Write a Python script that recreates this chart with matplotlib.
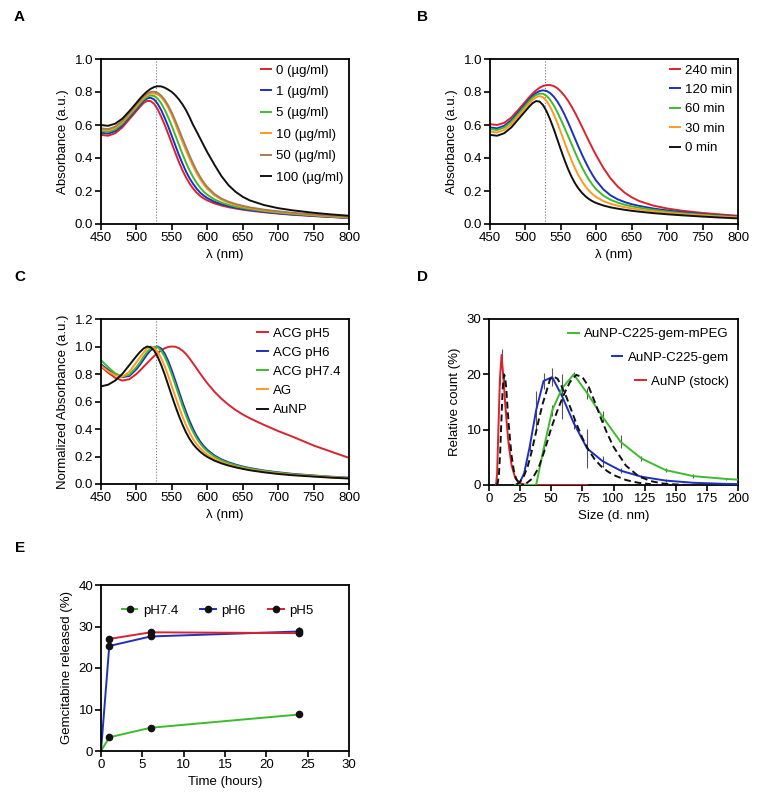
import numpy as np
import matplotlib
matplotlib.use("Agg")
import matplotlib.pyplot as plt
from matplotlib.lines import Line2D

plt.rcParams["font.family"] = ["Liberation Sans", "DejaVu Sans"]
plt.rcParams["font.size"] = 9.5

# ---- spectra (A, B, C) ----
wl = [450, 460, 470, 480, 490, 500, 505, 510, 515, 520, 525, 530, 535, 540, 545, 550, 555, 560,
      565, 570, 575, 580, 585, 590, 595, 600, 610, 620, 630, 640, 650, 660, 680, 700, 720, 750,
      775, 800]

a_labels = ["0 (µg/ml)", "1 (µg/ml)", "5 (µg/ml)", "10 (µg/ml)", "50 (µg/ml)", "100 (µg/ml)"]
a_0 = [0.54, 0.535, 0.55, 0.585, 0.635, 0.685, 0.71, 0.733, 0.746, 0.745, 0.728, 0.695, 0.65,
       0.60, 0.545, 0.487, 0.43, 0.375, 0.325, 0.282, 0.245, 0.215, 0.19, 0.17, 0.155, 0.143,
       0.125, 0.112, 0.102, 0.094, 0.087, 0.081, 0.071, 0.063, 0.056, 0.048, 0.042, 0.036]
a_1 = [0.553, 0.548, 0.563, 0.598, 0.648, 0.698, 0.723, 0.746, 0.761, 0.765, 0.755, 0.728, 0.69,
       0.642, 0.59, 0.533, 0.475, 0.418, 0.366, 0.318, 0.277, 0.243, 0.214, 0.19, 0.172, 0.157,
       0.135, 0.12, 0.108, 0.099, 0.091, 0.085, 0.074, 0.065, 0.058, 0.05, 0.043, 0.037]
a_5 = [0.563, 0.558, 0.573, 0.607, 0.656, 0.706, 0.731, 0.754, 0.771, 0.779, 0.776, 0.76, 0.731,
       0.692, 0.645, 0.593, 0.537, 0.48, 0.424, 0.372, 0.325, 0.284, 0.249, 0.22, 0.196, 0.177,
       0.149, 0.13, 0.116, 0.105, 0.097, 0.09, 0.078, 0.069, 0.061, 0.052, 0.045, 0.038]
a_10 = [0.573, 0.568, 0.583, 0.617, 0.666, 0.716, 0.741, 0.764, 0.781, 0.79, 0.79, 0.785, 0.768,
        0.74, 0.703, 0.658, 0.606, 0.55, 0.497, 0.445, 0.395, 0.349, 0.307, 0.27, 0.239, 0.213,
        0.174, 0.148, 0.129, 0.115, 0.104, 0.096, 0.083, 0.073, 0.065, 0.055, 0.047, 0.04]
a_50 = [0.58, 0.575, 0.59, 0.624, 0.673, 0.724, 0.749, 0.772, 0.79, 0.80, 0.802, 0.795, 0.778,
        0.752, 0.717, 0.674, 0.625, 0.572, 0.518, 0.465, 0.414, 0.366, 0.323, 0.285, 0.252, 0.224,
        0.182, 0.154, 0.135, 0.121, 0.11, 0.101, 0.087, 0.077, 0.068, 0.058, 0.05, 0.043]
a_100 = [0.60, 0.595, 0.608, 0.638, 0.684, 0.734, 0.76, 0.783, 0.803, 0.819, 0.83, 0.835, 0.834,
         0.826, 0.814, 0.80, 0.78, 0.755, 0.725, 0.69, 0.647, 0.60, 0.56, 0.518, 0.476, 0.435,
         0.36, 0.29, 0.235, 0.195, 0.165, 0.143, 0.115, 0.096, 0.083, 0.068, 0.058, 0.05]

b_labels = ["240 min", "120 min", "60 min", "30 min", "0 min"]
b_240 = [0.605, 0.60, 0.613, 0.645, 0.692, 0.742, 0.767, 0.79, 0.81, 0.826, 0.837, 0.842, 0.842,
         0.836, 0.823, 0.803, 0.778, 0.748, 0.713, 0.674, 0.632, 0.588, 0.543, 0.499, 0.456, 0.415,
         0.34, 0.277, 0.228, 0.19, 0.162, 0.14, 0.112, 0.094, 0.081, 0.067, 0.058, 0.05]
b_120 = [0.585, 0.58, 0.595, 0.629, 0.678, 0.728, 0.753, 0.776, 0.794, 0.806, 0.81, 0.806, 0.793,
         0.772, 0.743, 0.707, 0.665, 0.618, 0.568, 0.517, 0.467, 0.419, 0.374, 0.332, 0.295, 0.262,
         0.21, 0.174, 0.15, 0.133, 0.12, 0.11, 0.094, 0.082, 0.072, 0.06, 0.051, 0.043]
b_60 = [0.575, 0.57, 0.585, 0.619, 0.668, 0.718, 0.743, 0.766, 0.782, 0.79, 0.789, 0.776, 0.752,
        0.719, 0.678, 0.633, 0.585, 0.535, 0.485, 0.435, 0.387, 0.342, 0.302, 0.266, 0.236, 0.21,
        0.172, 0.147, 0.13, 0.117, 0.107, 0.099, 0.086, 0.075, 0.066, 0.056, 0.048, 0.041]
b_30 = [0.56, 0.555, 0.57, 0.604, 0.654, 0.704, 0.729, 0.752, 0.768, 0.775, 0.768, 0.745, 0.71,
        0.665, 0.613, 0.556, 0.497, 0.44, 0.386, 0.337, 0.294, 0.257, 0.226, 0.2, 0.18, 0.163,
        0.139, 0.123, 0.111, 0.102, 0.094, 0.088, 0.077, 0.068, 0.06, 0.052, 0.045, 0.039]
b_0 = [0.54, 0.535, 0.55, 0.585, 0.635, 0.685, 0.71, 0.732, 0.745, 0.742, 0.72, 0.682, 0.632,
       0.575, 0.513, 0.45, 0.39, 0.335, 0.287, 0.247, 0.214, 0.188, 0.167, 0.15, 0.137, 0.127,
       0.112, 0.101, 0.093, 0.086, 0.08, 0.075, 0.066, 0.059, 0.053, 0.045, 0.039, 0.034]

c_labels = ["ACG pH5", "ACG pH6", "ACG pH7.4", "AG", "AuNP"]
c_ph5 = [0.855, 0.81, 0.772, 0.752, 0.762, 0.80, 0.825, 0.852, 0.878, 0.905, 0.93, 0.953, 0.972,
         0.987, 0.997, 1.0, 0.998, 0.988, 0.97, 0.945, 0.913, 0.877, 0.84, 0.803, 0.767, 0.733,
         0.672, 0.62, 0.576, 0.538, 0.506, 0.478, 0.43, 0.385, 0.345, 0.28, 0.235, 0.19]
c_ph6 = [0.87, 0.83, 0.795, 0.778, 0.785, 0.835, 0.868, 0.905, 0.942, 0.972, 0.992, 1.0, 0.985,
         0.948, 0.893, 0.825, 0.75, 0.672, 0.596, 0.524, 0.458, 0.40, 0.35, 0.309, 0.276, 0.249,
         0.208, 0.179, 0.158, 0.141, 0.127, 0.116, 0.098, 0.085, 0.074, 0.062, 0.053, 0.046]
c_ph74 = [0.90, 0.85, 0.805, 0.782, 0.795, 0.85, 0.885, 0.925, 0.96, 0.985, 0.998, 0.995, 0.97,
          0.925, 0.865, 0.795, 0.72, 0.643, 0.568, 0.497, 0.433, 0.378, 0.332, 0.294, 0.263, 0.238,
          0.20, 0.172, 0.152, 0.136, 0.123, 0.112, 0.095, 0.082, 0.071, 0.06, 0.051, 0.044]
c_ag = [0.86, 0.82, 0.79, 0.78, 0.815, 0.885, 0.92, 0.955, 0.985, 1.0, 0.99, 0.96, 0.915, 0.855,
        0.785, 0.71, 0.635, 0.56, 0.49, 0.428, 0.373, 0.327, 0.29, 0.26, 0.235, 0.214, 0.182,
        0.159, 0.141, 0.127, 0.115, 0.105, 0.089, 0.077, 0.067, 0.057, 0.049, 0.042]
c_aunp = [0.71, 0.722, 0.752, 0.80, 0.865, 0.93, 0.96, 0.985, 1.0, 0.995, 0.97, 0.925, 0.865,
          0.795, 0.718, 0.64, 0.565, 0.495, 0.432, 0.375, 0.328, 0.29, 0.26, 0.235, 0.214, 0.197,
          0.17, 0.15, 0.134, 0.121, 0.11, 0.10, 0.085, 0.073, 0.064, 0.054, 0.046, 0.04]

# ---- DLS size distribution (D) ----
nan = np.nan
dls_size = [5.615, 6.503, 7.531, 8.721, 10.1, 11.7, 13.54, 15.69, 18.17, 21.04, 24.36, 28.21, 32.67,
            37.84, 43.82, 50.75, 58.77, 68.06, 78.82, 91.28, 105.7, 122.4, 141.8, 164.2, 190.1, 220.2]
d_aunp = [0, 2, 10, 19, 23.5, 19, 13, 7.5, 3.5, 1.3, 0.4, 0.1, 0, 0, 0, 0, 0, 0, 0,
          nan, nan, nan, nan, nan, nan, nan]
d_aunp_err = [0, 0, 0.5, 1, 1, 1, 0.5, 0.3, 0.2, 0.1, 0, 0, 0, 0, 0, 0, 0, 0, 0,
              0, 0, 0, 0, 0, 0, 0]
d_gem = [nan, nan, nan, nan, nan, nan, nan, nan, nan, 0, 0.3, 2.1, 6.9, 13.5, 18.8, 19.5, 16, 11.2,
         6.6, 4.3, 2.6, 1.5, 0.8, 0.4, 0.2, 0.1]
d_gem_err = [0, 0, 0, 0, 0, 0, 0, 0, 0, 0, 0.1, 0.3, 0.8, 3.5, 1.5, 1.6, 4, 1, 3.5, 1, 0.5,
             0.3, 0.2, 0.1, 0.1, 0]
d_peg = [nan, nan, nan, nan, nan, nan, nan, nan, nan, 0, 0, 0, 0, 0, 6.5, 13.5, 17.5, 20, 16.6,
         12.3, 7.8, 4.8, 2.7, 1.6, 1.1, 0.7]
d_peg_err = [0, 0, 0, 0, 0, 0, 0, 0, 0, 0, 0, 0, 0, 0, 0.5, 1, 1.2, 0.5, 1, 1, 1.2,
             0.4, 0.3, 0.3, 0.2, 0]
d_labels = ["AuNP-C225-gem-mPEG", "AuNP-C225-gem", "AuNP (stock)"]

fit_aunp_x = [6, 7, 8, 9, 10, 11, 12, 13, 14, 15, 16, 18, 20, 22, 24, 26, 28]
fit_aunp_y = [0, 0.3, 2, 6, 12, 17.5, 20, 19.5, 17, 13.5, 10.5, 5.5, 2.5, 1, 0.4, 0.1, 0]
fit_gem_x = [22, 25, 28, 31, 34, 37, 40, 43, 46, 49, 52, 55, 58, 62, 66, 70, 75, 80, 85, 90,
             95, 100, 110, 120, 130]
fit_gem_y = [0.1, 0.6, 1.6, 3.3, 5.8, 8.8, 11.8, 14.6, 16.8, 19.1, 19.6, 19.2, 18, 16, 13.6,
             11.2, 8.5, 6.3, 4.6, 3.4, 2.5, 1.8, 0.9, 0.4, 0.15]
fit_peg_x = [30, 35, 40, 45, 50, 55, 60, 65, 70, 75, 80, 85, 90, 95, 100, 110, 120, 130, 140,
             150, 160]
fit_peg_y = [0.3, 1.2, 3.2, 6.5, 10.3, 13.5, 16.3, 18.6, 19.9, 19.5, 17.8, 15, 12, 9.3, 6.9,
             3.5, 1.6, 0.7, 0.25, 0.1, 0]

# ---- drug release (E) ----
e_labels = ["pH7.4", "pH6", "pH5"]
t_74 = [0, 1, 6, 24]
rel_74 = [0, 3.3, 5.6, 8.8]
err_74 = [0, 0.3, 0.3, 0.4]
t_6 = [0, 1, 6, 24]
rel_6 = [0, 25.3, 27.6, 28.8]
err_6 = [0, 0.4, 0.5, 1.2]
t_5 = [1, 6, 24]
rel_5 = [27.0, 28.6, 28.4]
err_5 = [0.3, 0.4, 0.5]

RED = "#d9232e"
BLUE = "#1f2fbf"
GREEN = "#3dbb2e"
ORANGE = "#ff9922"
BROWN = "#a47c52"
BLACK = "#111111"

W, H = 762, 799
fig = plt.figure(figsize=(W / 100, H / 100), dpi=100)


def make_ax(x0, y0, x1, y1):
    ax = fig.add_axes([x0 / W, 1 - y1 / H, (x1 - x0) / W, (y1 - y0) / H])
    for s in ax.spines.values():
        s.set_linewidth(1.3)
    ax.tick_params(direction="out", length=4, width=1.2, labelsize=9.5, pad=1.5)
    return ax


def spectra_legend(ax, spacing, pad):
    ax.legend(loc="upper right", frameon=False, handlelength=0.8, handletextpad=0.4,
              labelspacing=spacing, borderaxespad=pad, fontsize=9.5)


def spectra_axes(ax, top):
    ax.axvline(527, color="#777777", ls=":", lw=0.8, zorder=1)
    ax.set_xlim(450, 800)
    ax.set_ylim(0, top)
    ax.set_xticks(range(450, 801, 50))
    ticks = np.arange(0, top + 0.01, 0.2)
    ax.set_yticks(ticks)
    ax.set_yticklabels([f"{v:.1f}" for v in ticks])
    ax.set_xlabel("λ (nm)")


# A
ax = make_ax(101, 59, 349, 224)
spectra_axes(ax, 1.0)
for ys, c, lab in zip([a_0, a_1, a_5, a_10, a_50, a_100],
                      [RED, BLUE, GREEN, ORANGE, BROWN, BLACK], a_labels):
    ax.plot(wl, ys, color=c, lw=1.4, label=lab)
ax.set_ylabel("Absorbance (a.u.)")
spectra_legend(ax, 0.7, 0.0)

# B
ax = make_ax(490, 59, 738, 224)
spectra_axes(ax, 1.0)
for ys, c, lab in zip([b_240, b_120, b_60, b_30, b_0],
                      [RED, BLUE, GREEN, ORANGE, BLACK], b_labels):
    ax.plot(wl, ys, color=c, lw=1.4, label=lab)
ax.set_ylabel("Absorbance (a.u.)")
spectra_legend(ax, 0.55, 0.0)

# C
ax = make_ax(101, 319, 349, 484)
spectra_axes(ax, 1.2)
for ys, c, lab in zip([c_ph5, c_ph6, c_ph74, c_ag, c_aunp],
                      [RED, BLUE, GREEN, ORANGE, BLACK], c_labels):
    ax.plot(wl, ys, color=c, lw=1.4, label=lab)
ax.set_ylabel("Normalized Absorbance (a.u.)")
spectra_legend(ax, 0.52, 0.25)

# D
ax = make_ax(489, 319, 738, 485)
for ys, es, c in [(d_aunp, d_aunp_err, RED), (d_gem, d_gem_err, BLUE), (d_peg, d_peg_err, GREEN)]:
    ys = np.array(ys)
    es = np.array(es)
    ok = ~np.isnan(ys)
    xs = np.array(dls_size)[ok]
    ax.errorbar(xs, ys[ok], yerr=es[ok], fmt="none", ecolor="#555555", elinewidth=0.8,
                capsize=0, zorder=2)
    ax.plot(xs, ys[ok], color=c, lw=1.4, zorder=3)
for fx, fy in [(fit_aunp_x, fit_aunp_y), (fit_gem_x, fit_gem_y), (fit_peg_x, fit_peg_y)]:
    ax.plot(fx, fy, color=BLACK, lw=1.4, ls=(0, (3.5, 2)), zorder=4)
ax.set_xlim(0, 200)
ax.set_ylim(0, 30)
ax.set_xticks(range(0, 201, 25))
ax.set_yticks([0, 10, 20, 30])
ax.set_xlabel("Size (d. nm)")
ax.set_ylabel("Relative count (%)")
for i, (lab, c) in enumerate(zip(d_labels, [GREEN, BLUE, RED])):
    leg = ax.legend([Line2D([], [], color=c, lw=1.4)], [lab], loc="upper right",
                    bbox_to_anchor=(1.0, 1.0 - i * 0.142), frameon=False, handlelength=0.8,
                    handletextpad=0.4, borderaxespad=0.3, fontsize=9.5)
    if i < len(d_labels) - 1:
        ax.add_artist(leg)

# E
ax = make_ax(101, 585, 349, 751)
handles = []
for t, r, e, c in [(t_74, rel_74, err_74, GREEN), (t_6, rel_6, err_6, BLUE),
                   (t_5, rel_5, err_5, RED)]:
    ax.plot(t, r, color=c, lw=1.4, zorder=2)
    ax.errorbar([x for x in t if x > 0], [y for x, y in zip(t, r) if x > 0],
                yerr=[s for x, s in zip(t, e) if x > 0], fmt="o", ms=4.5, mfc=BLACK, mec=BLACK,
                ecolor=BLACK, elinewidth=0.9, capsize=0, zorder=3)
    handles.append(Line2D([], [], color=c, lw=1.4, marker="o", ms=4.5, mfc=BLACK, mec=BLACK))
ax.set_xlim(0, 30)
ax.set_ylim(0, 40)
ax.set_xticks(range(0, 31, 5))
ax.set_yticks(range(0, 41, 10))
ax.set_xlabel("Time (hours)")
ax.set_ylabel("Gemcitabine released (%)")
ax.legend(handles, e_labels, loc="upper center", bbox_to_anchor=(0.47, 0.955), ncol=3,
          frameon=False, handlelength=1.2, handletextpad=0.4, columnspacing=1.7, fontsize=9.5)

# panel letters
for txt, x, y in [("A", 19, 17), ("B", 422, 17), ("C", 20, 277), ("D", 422, 277), ("E", 20, 548)]:
    fig.text(x / W, 1 - y / H, txt, fontsize=11, fontweight="bold", ha="center", va="center")

fig.savefig("out.png", dpi=100)
